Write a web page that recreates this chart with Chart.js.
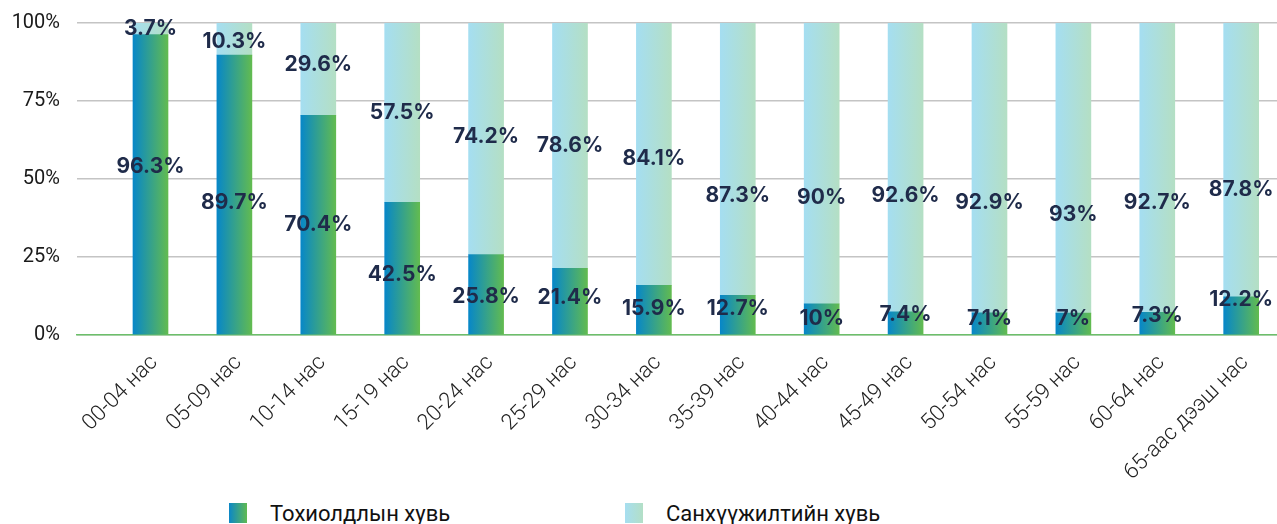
<!DOCTYPE html>
<html>
<head>
<meta charset="utf-8">
<script src="https://cdn.jsdelivr.net/npm/chart.js@4.4.1/dist/chart.umd.min.js"></script>
<style>
  html, body { margin: 0; padding: 0; background: #fff; }
  #wrap { position: relative; width: 1277px; height: 524px; overflow: hidden; }
  canvas { position: absolute; left: 0; top: 0; }
  .leg { position: absolute; top: 501px; font-family: Roboto, sans-serif; font-size: 22px; font-weight: 400; color: #111; display: flex; align-items: center; height: 24px; }
  .leg .box { width: 18px; height: 20px; margin-right: 23px; }
</style>
</head>
<body>
<div id="wrap">
  <canvas id="c" width="1277" height="490"></canvas>
  <div class="leg" style="left:229px"><span class="box" style="background:linear-gradient(to right,#0b87c7,#60ba52)"></span><span id="l1"></span></div>
  <div class="leg" style="left:625px"><span class="box" style="background:linear-gradient(to right,#a6def0,#b3dfc6)"></span><span id="l2"></span></div>
</div>
<script>
// ---- data ----
const categories = ["00-04 нас","05-09 нас","10-14 нас","15-19 нас","20-24 нас","25-29 нас","30-34 нас","35-39 нас","40-44 нас","45-49 нас","50-54 нас","55-59 нас","60-64 нас","65-аас дээш нас"];
const seriesNames = ["Тохиолдлын хувь", "Санхүүжилтийн хувь"];
const caseShare = [96.3, 89.7, 70.4, 42.5, 25.8, 21.4, 15.9, 12.7, 10, 7.4, 7.1, 7, 7.3, 12.2];
const fundingShare = [3.7, 10.3, 29.6, 57.5, 74.2, 78.6, 84.1, 87.3, 90, 92.6, 92.9, 93, 92.7, 87.8];
const yTicks = [0, 25, 50, 75, 100];

// ---- style: manual label nudges (px, vertical) as in the original layout ----
const labelNudgeCase = [-18, 8, 0, 6, 2, -4, -1, -6, 0, -8, -5, -5, -8, -16];
const labelNudgeFunding = [0, 3, -4, 0, -2, 0, 4, 36, 34, 28, 35, 47, 35, 30];

document.getElementById('l1').textContent = seriesNames[0];
document.getElementById('l2').textContent = seriesNames[1];

const BAR_W = 35;
function barGradient(c1, c2, fallback) {
  return function(ctx) {
    const chart = ctx.chart;
    const xs = chart.scales && chart.scales.x;
    if (!xs || !chart.chartArea || ctx.dataIndex === undefined) return fallback;
    const cx = xs.getPixelForValue(ctx.dataIndex);
    const g = chart.ctx.createLinearGradient(cx - BAR_W / 2, 0, cx + BAR_W / 2, 0);
    g.addColorStop(0, c1);
    g.addColorStop(1, c2);
    return g;
  };
}

const nudges = [labelNudgeCase, labelNudgeFunding];
const labelPlugin = {
  id: 'valueLabels',
  afterDatasetsDraw(chart) {
    const ctx = chart.ctx;
    ctx.save();
    ctx.font = '700 21px Inter, "DejaVu Sans", sans-serif';
    ctx.fillStyle = '#1f2b4a';
    ctx.textAlign = 'center';
    ctx.textBaseline = 'middle';
    chart.data.datasets.forEach((ds, di) => {
      const meta = chart.getDatasetMeta(di);
      meta.data.forEach((el, i) => {
        const v = ds.data[i].y;
        const y = (el.y + el.base) / 2 + nudges[di][i];
        ctx.fillText(v + '%', el.x, y);
      });
    });
    ctx.restore();
  }
};

new Chart(document.getElementById('c'), {
  type: 'bar',
  data: {
    datasets: [
      {
        label: seriesNames[0],
        data: caseShare.map((v, i) => ({ x: i, y: v })),
        backgroundColor: barGradient('#0787c8', '#62bb50', '#3aa08a'),
        barThickness: BAR_W,
        borderWidth: 0
      },
      {
        label: seriesNames[1],
        data: fundingShare.map((v, i) => ({ x: i, y: v })),
        backgroundColor: barGradient('#a5def1', '#b4dfc4', '#acdedb'),
        barThickness: BAR_W,
        borderWidth: 0
      }
    ]
  },
  options: {
    responsive: false,
    animation: false,
    devicePixelRatio: 1,
    layout: { padding: { left: 0, top: 23, right: 0, bottom: 0 } },
    plugins: { legend: { display: false }, tooltip: { enabled: false } },
    scales: {
      x: {
        type: 'linear',
        offset: false,
        stacked: true,
        min: -0.876,
        max: 13.427,
        afterBuildTicks(scale) { scale.ticks = categories.map((_, i) => ({ value: i })); },
        afterFit(scale) { scale.height = 155; },
        grid: { display: false, drawTicks: false, offset: false },
        border: { display: true, color: '#6cbf6a', width: 1.5 },
        ticks: {
          autoSkip: false,
          maxRotation: 45,
          minRotation: 45,
          padding: 15,
          labelOffset: 4,
          color: '#222',
          font: { family: 'Roboto', size: 22, weight: 300 },
          callback: (v) => categories[v]
        }
      },
      y: {
        stacked: true,
        min: 0,
        max: 100,
        afterBuildTicks(scale) { scale.ticks = yTicks.map(v => ({ value: v })); },
        afterFit(scale) { scale.width = 77; scale.paddingTop = 0; scale.paddingBottom = 0; },
        grid: { color: '#c4c4c4', lineWidth: 1.5, drawTicks: false },
        border: { display: false },
        ticks: {
          padding: 17,
          color: '#1a1a1a',
          font: { family: 'Roboto', size: 20 },
          callback: (v) => v + '%'
        }
      }
    }
  },
  plugins: [labelPlugin]
});
</script>
</body>
</html>
